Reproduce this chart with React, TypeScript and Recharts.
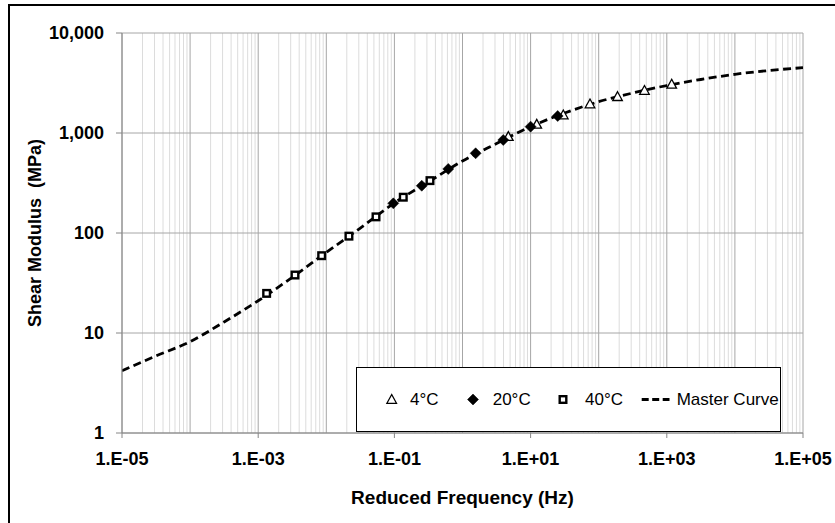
import React from 'react';
import { ComposedChart, Line, Scatter, XAxis, YAxis, CartesianGrid, Legend } from 'recharts';

const FONT = "'Liberation Sans', Arial, sans-serif";

// Tick values and labels
const xTicks = [1e-5, 1e-3, 1e-1, 1e1, 1e3, 1e5];
const xTickLabels = ['1.E-05', '1.E-03', '1.E-01', '1.E+01', '1.E+03', '1.E+05'];
const yTicks = [1, 10, 100, 1000, 10000];
const yTickLabels = ['1', '10', '100', '1,000', '10,000'];

// Series: 4°C
const freq4C = [4.71, 12.3, 30.2, 74.5, 189, 470, 1180];
const mod4C = [919, 1221, 1514, 1950, 2307, 2661, 3069];
// Series: 20°C
const freq20C = [0.0964, 0.252, 0.618, 1.56, 3.97, 10.0, 25.0];
const mod20C = [198, 297, 437, 627, 851, 1157, 1479];
// Series: 40°C
const freq40C = [0.00133, 0.00347, 0.00855, 0.0215, 0.0537, 0.135, 0.333];
const mod40C = [24.9, 38, 59.3, 93, 145, 228, 334];
// Master curve (read at half-decade steps)
const freqMaster = [1e-5, 3.16e-5, 1e-4, 3.16e-4, 1e-3, 3.16e-3, 1e-2, 3.16e-2, 1e-1, 3.16e-1, 1, 3.16, 10, 31.6, 100, 316, 1000, 3160, 10000, 31600, 100000];
const modMaster = [4.2, 5.9, 8.2, 12.9, 21, 36, 64, 112, 200, 324, 525, 785, 1156, 1585, 2056, 2512, 2985, 3428, 3864, 4217, 4498];

const seriesNames = ['4°C', '20°C', '40°C', 'Master Curve'];

const toRows = (fs: number[], gs: number[]) => fs.map((f, i) => ({ f, g: gs[i] }));
const data4 = toRows(freq4C, mod4C);
const data20 = toRows(freq20C, mod20C);
const data40 = toRows(freq40C, mod40C);
const dataMaster = toRows(freqMaster, modMaster);

// grid line values
const decadeX: number[] = [];
const minorX: number[] = [];
for (let k = -5; k <= 5; k++) {
  decadeX.push(Math.pow(10, k));
  if (k < 5) for (let m = 2; m <= 9; m++) minorX.push(m * Math.pow(10, k));
}

const makeGen = (values: number[]) => (args: any) => {
  const s = args && args.xAxis && args.xAxis.scale;
  let f: ((v: number) => number) | null = null;
  if (typeof s === 'function') f = s;
  else if (s && typeof s.map === 'function') f = (v: number) => s.map(v);
  if (!f) return [];
  return values.map((v) => f!(v)).filter((v) => Number.isFinite(v));
};

const Triangle = (props: any) => {
  const { cx, cy } = props;
  if (cx == null || cy == null) return null;
  return <path d={`M${cx},${cy - 5} L${cx + 4.8},${cy + 3.8} L${cx - 4.8},${cy + 3.8} Z`} fill="#fff" stroke="#000" strokeWidth={1.3} />;
};
const Diamond = (props: any) => {
  const { cx, cy } = props;
  if (cx == null || cy == null) return null;
  return <path d={`M${cx},${cy - 5.5} L${cx + 5.5},${cy} L${cx},${cy + 5.5} L${cx - 5.5},${cy} Z`} fill="#000" stroke="#000" strokeWidth={0.5} />;
};
const Square = (props: any) => {
  const { cx, cy } = props;
  if (cx == null || cy == null) return null;
  return <rect x={cx - 3.3} y={cy - 3.3} width={6.6} height={6.6} fill="#fff" stroke="#000" strokeWidth={2.4} />;
};

const legendText: React.CSSProperties = {
  position: 'absolute',
  top: 23,
  fontFamily: FONT,
  fontSize: 17,
  lineHeight: '17px',
  color: '#000',
  whiteSpace: 'nowrap',
};

const renderLegend = () => (
  <div style={{ position: 'relative', width: 425, height: 65, background: '#fff', border: '1px solid #000', boxSizing: 'border-box' }}>
    <svg style={{ position: 'absolute', left: 0, top: 0 }} width={423} height={63}>
      <Triangle cx={34.7} cy={31.5} />
      <Diamond cx={116} cy={31.5} />
      <Square cx={206} cy={31.5} />
      <line x1={284.7} y1={31.5} x2={312.5} y2={31.5} stroke="#000" strokeWidth={3} strokeDasharray="7 3.5" />
    </svg>
    <span style={{ ...legendText, left: 53 }}>{seriesNames[0]}</span>
    <span style={{ ...legendText, left: 135.7 }}>{seriesNames[1]}</span>
    <span style={{ ...legendText, left: 228 }}>{seriesNames[2]}</span>
    <span style={{ ...legendText, left: 319.7 }}>{seriesNames[3]}</span>
  </div>
);

const tickStyle = { fill: '#000', fontSize: 18, fontWeight: 'bold' as const, fontFamily: FONT };

export default function App() {
  return (
    <div style={{ position: 'fixed', left: 0, top: 0, width: 835, height: 523, background: '#fff' }}>
      <div style={{ position: 'absolute', left: 8, top: 4, width: 827, height: 519, borderLeft: '2px solid #000', borderTop: '2px solid #000', boxSizing: 'border-box' }} />
      <div style={{ position: 'absolute', left: 0, top: 0 }}>
        <ComposedChart width={835} height={523} margin={{ top: 33, right: 32, bottom: 15, left: 0 }}>
          <CartesianGrid horizontal={false} vertical={true} verticalCoordinatesGenerator={makeGen(minorX)} stroke="#dcdcdc" strokeWidth={1} />
          <CartesianGrid horizontal={true} vertical={true} verticalCoordinatesGenerator={makeGen(decadeX)} stroke="#a6a6a6" strokeWidth={1} />
          <XAxis
            type="number"
            dataKey="f"
            scale="log"
            domain={[1e-5, 1e5]}
            allowDataOverflow
            ticks={xTicks}
            interval={0}
            tickFormatter={(v: number) => xTickLabels[xTicks.findIndex((t) => Math.abs(Math.log10(t) - Math.log10(v)) < 1e-6)] ?? ''}
            tick={tickStyle}
            tickSize={5}
            tickMargin={14}
            height={75}
            axisLine={{ stroke: '#868686' }}
            tickLine={{ stroke: '#868686' }}
            label={{ value: 'Reduced Frequency (Hz)', position: 'insideBottom', offset: 4, style: { fill: '#000', fontSize: 19, fontWeight: 'bold', fontFamily: FONT } }}
          />
          <YAxis
            type="number"
            dataKey="g"
            scale="log"
            domain={[1, 10000]}
            allowDataOverflow
            ticks={yTicks}
            interval={0}
            tickFormatter={(v: number) => yTickLabels[yTicks.findIndex((t) => Math.abs(Math.log10(t) - Math.log10(v)) < 1e-6)] ?? ''}
            tick={tickStyle}
            tickSize={6}
            tickMargin={12}
            width={122}
            axisLine={{ stroke: '#868686' }}
            tickLine={{ stroke: '#868686' }}
            label={{ value: 'Shear Modulus\u00A0 (MPa)', angle: -90, position: 'insideLeft', offset: 34.5, style: { textAnchor: 'middle', fill: '#000', fontSize: 18, fontWeight: 'bold', fontFamily: FONT } }}
          />
          <Legend layout="horizontal" verticalAlign="middle" align="center" width={425} height={65} wrapperStyle={{ left: 356, top: 367, width: 425, height: 65 }} content={renderLegend} />
          <Scatter name={seriesNames[0]} data={data4} dataKey="g" shape={<Triangle />} isAnimationActive={false} />
          <Scatter name={seriesNames[1]} data={data20} dataKey="g" shape={<Diamond />} isAnimationActive={false} />
          <Scatter name={seriesNames[2]} data={data40} dataKey="g" shape={<Square />} isAnimationActive={false} />
          <Line name={seriesNames[3]} data={dataMaster} dataKey="g" type="monotone" stroke="#000" strokeWidth={2.8} strokeDasharray="8 4.5" dot={false} activeDot={false} isAnimationActive={false} />
        </ComposedChart>
      </div>
    </div>
  );
}
